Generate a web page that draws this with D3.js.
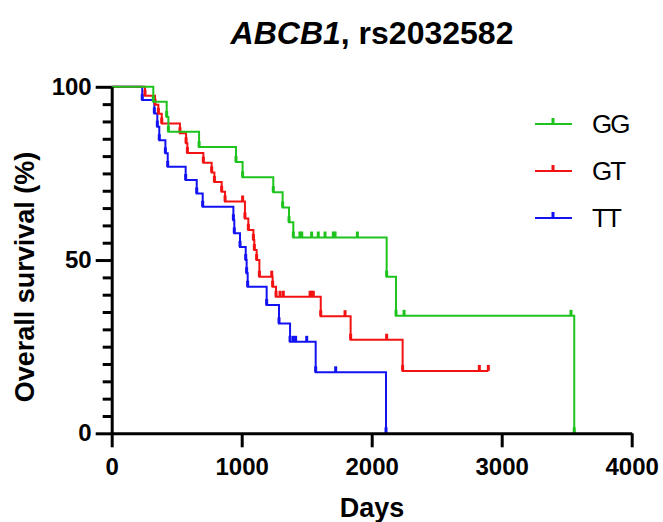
<!DOCTYPE html>
<html>
<head>
<meta charset="utf-8">
<script src="https://cdn.jsdelivr.net/npm/d3@7"></script>
<style>
  body { margin: 0; background: #fff; }
  svg text { font-family: "Liberation Sans", Arial, sans-serif; }
</style>
</head>
<body>
<svg id="chart" width="663" height="522"></svg>
<script>
// groups and colours
var groups = ["GG", "GT", "TT"];
var colors = {"GG": "#1ec31e", "GT": "#f21212", "TT": "#1212f2"};

// deaths: [day, survival % after the step]
var deathsGG = [[320, 95.7], [423, 91.3], [436, 87.0], [672, 82.6], [956, 78.3], [1007, 73.9],
    [1243, 69.6], [1315, 65.2], [1364, 60.9], [1397, 56.5], [2115, 45.2], [2187, 33.9], [3558, 0]];
var censorGG = [[1448, 56.5], [1462, 56.5], [1538, 56.5], [1589, 56.5], [1641, 56.5], [1705, 56.5],
    [1718, 56.5], [1890, 56.5], [2249, 33.9], [3533, 33.9]];

var deathsGT = [[256, 97.4], [333, 94.8], [359, 92.2], [385, 89.4], [525, 86.6], [572, 83.7],
    [582, 80.9], [705, 78.1], [769, 75.3], [790, 72.5], [846, 69.7], [872, 66.9], [1025, 62.0],
    [1051, 58.7], [1090, 55.8], [1097, 52.9], [1115, 50.0], [1136, 45.2], [1238, 42.3], [1264, 39.4],
    [1608, 33.8], [1838, 27.0], [2238, 18.0]];
var censorGT = [[1007, 66.9], [1231, 45.2], [1295, 39.4], [1320, 39.4], [1526, 39.4], [1538, 39.4],
    [1551, 39.4], [1795, 33.8], [2115, 27.0], [2828, 18.0], [2897, 18.0]];

var deathsTT = [[235, 96.2], [328, 92.3], [351, 88.5], [366, 84.6], [413, 80.8], [431, 76.9],
    [569, 73.1], [654, 69.2], [700, 65.4], [936, 61.5], [943, 57.7], [987, 53.8], [1031, 50.0],
    [1038, 46.2], [1046, 42.3], [1192, 37.0], [1287, 31.7], [1372, 26.4], [1569, 17.6], [2110, 0]];
var censorTT = [[1397, 26.4], [1415, 26.4], [1500, 26.4], [1723, 17.6]];

var xTicks = [0, 1000, 2000, 3000, 4000];
var yLabels = [0, 50, 100];

var data = {
    "GG": {deaths: deathsGG, censor: censorGG},
    "GT": {deaths: deathsGT, censor: censorGT},
    "TT": {deaths: deathsTT, censor: censorTT}
};

var svg = d3.select("#chart");
var x = d3.scaleLinear().domain([0, 4000]).range([111.7, 631.7]);
var y = d3.scaleLinear().domain([0, 100]).range([433.3, 86.8]);

// title
var title = svg.append("text")
    .attr("x", 372).attr("y", 44)
    .attr("text-anchor", "middle")
    .style("font-size", "32px").style("font-weight", "bold");
title.append("tspan").style("font-style", "italic").text("ABCB1");
title.append("tspan").text(", rs2032582");

// curves
function stepPoints(g)
{
    var pts = [[0, 100]];
    var all = data[g].deaths.map(function(d){ return {t: d[0], s: d[1], dead: true}; })
        .concat(data[g].censor.map(function(d){ return {t: d[0], s: d[1], dead: false}; }))
        .sort(function(a, b){ return a.t - b.t; });
    all.forEach(function(p){ pts.push([p.t, p.s]); });
    return {pts: pts, all: all};
}

var line = d3.line()
    .x(function(d){ return x(d[0]); })
    .y(function(d){ return y(d[1]); })
    .curve(d3.curveStepAfter);

groups.slice().reverse().forEach(function(g)
{
    var sp = stepPoints(g);
    svg.append("path")
        .attr("d", line(sp.pts))
        .attr("fill", "none")
        .attr("stroke", colors[g])
        .attr("stroke-width", 2);
    svg.selectAll(".tick-" + g)
        .data(sp.all)
        .enter()
        .append("line")
            .attr("x1", function(d){ return x(d.t); })
            .attr("x2", function(d){ return x(d.t); })
            .attr("y1", function(d){ return y(d.s); })
            .attr("y2", function(d){ return y(d.s) - 6; })
            .attr("stroke", colors[g])
            .attr("stroke-width", 3);
});

// axes
var xAxis = svg.append("g")
    .attr("transform", "translate(0," + y(0) + ")")
    .call(d3.axisBottom(x).tickValues(xTicks).tickSize(14).tickSizeOuter(0)
        .tickFormat(d3.format("d")));
xAxis.selectAll("path, line").attr("stroke", "#000").attr("stroke-width", 3);
xAxis.selectAll("text")
    .attr("y", 25).attr("dy", "0.71em")
    .attr("fill", "#000")
    .style("font-size", "24px").style("font-weight", "bold")
    .style("font-family", "'Liberation Sans', Arial, sans-serif");

var yAxis = svg.append("g")
    .attr("transform", "translate(" + x(0) + ",0)")
    .call(d3.axisLeft(y).tickValues(d3.range(0, 101, 5)).tickSizeOuter(0)
        .tickFormat(function(d){ return yLabels.indexOf(d) >= 0 ? d : ""; }));
yAxis.select("path").attr("stroke", "#000").attr("stroke-width", 3);
yAxis.selectAll(".tick line")
    .attr("stroke", "#000").attr("stroke-width", 3)
    .attr("x2", function(d){ return yLabels.indexOf(d) >= 0 ? -16 : -9; });
yAxis.selectAll(".tick text")
    .attr("x", -20)
    .attr("fill", "#000")
    .style("font-size", "24px").style("font-weight", "bold")
    .style("font-family", "'Liberation Sans', Arial, sans-serif");

// axis titles
svg.append("text")
    .attr("x", 372).attr("y", 517)
    .attr("text-anchor", "middle")
    .style("font-size", "27px").style("font-weight", "bold")
    .text("Days");

svg.append("text")
    .attr("transform", "translate(34,277) rotate(-90)")
    .attr("text-anchor", "middle")
    .style("font-size", "27px").style("font-weight", "bold")
    .text("Overall survival (%)");

// legend
var legend = svg.append("g");
groups.forEach(function(g, i)
{
    var ly = 124 + i * 47;
    legend.append("line")
        .attr("x1", 535).attr("x2", 572).attr("y1", ly).attr("y2", ly)
        .attr("stroke", colors[g]).attr("stroke-width", 2);
    legend.append("line")
        .attr("x1", 553).attr("x2", 553).attr("y1", ly).attr("y2", ly - 6)
        .attr("stroke", colors[g]).attr("stroke-width", 3);
    legend.append("text")
        .attr("x", 592).attr("y", ly + 9)
        .style("font-size", "26px").style("letter-spacing", "-2px")
        .text(g);
});
</script>
</body>
</html>
